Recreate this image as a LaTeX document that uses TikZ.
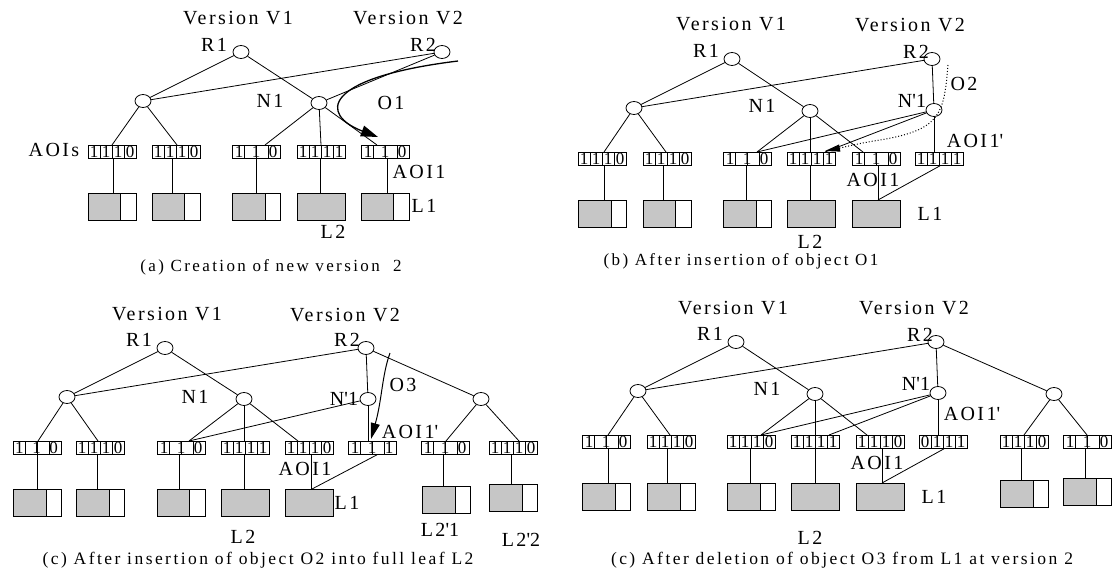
\documentclass[tikz,border=0pt]{standalone}
\usepackage{fontspec}
\setmainfont{Liberation Serif}
\newfontfamily\lblfont{Liberation Serif}[LetterSpace=12]
\newfontfamily\capfont{Liberation Serif}[LetterSpace=14]
\usetikzlibrary{shapes.geometric,arrows.meta}
\definecolor{leafgray}{RGB}{198,198,198}

\tikzset{
  tn/.style={draw, ellipse, minimum width=16pt, minimum height=13pt, inner sep=0pt},
  lbl/.style={font=\lblfont\fontsize{20}{22}\selectfont, inner sep=0pt},
  captop/.style={font=\capfont\fontsize{17}{19}\selectfont, inner sep=0pt},
  capbot/.style={font=\capfont\fontsize{17.5}{19}\selectfont, inner sep=0pt},
  digit/.style={font=\fontsize{17}{17}\selectfont, inner sep=0pt},
  aoibox/.style={draw, minimum width=48pt, minimum height=13pt, inner sep=0pt,
    path picture={\foreach \q in {12,24,36}
      \draw ([xshift=\q]path picture bounding box.south west) -- ([xshift=\q]path picture bounding box.north west);}},
  leaf/.style={draw, minimum width=48pt, minimum height=27pt, inner sep=0pt,
    path picture={\fill[leafgray] (path picture bounding box.south west) rectangle ([xshift=#1]path picture bounding box.north west);
      \draw ([xshift=#1]path picture bounding box.south west) -- ([xshift=#1]path picture bounding box.north west);}},
  bigtip/.style={line width=1.3pt, -{Triangle[length=17pt,width=11pt]}},
  dottip/.style={dotted, line width=1pt, -{Triangle[length=15pt,width=7pt]}},
  thintip/.style={line width=1pt, -{Triangle[length=16pt,width=9pt]}},
}

% AOI bit vectors: four cells, digits either one per cell or three spread over the box
\newcommand\aoifour[4]{%
  \node[aoibox,anchor=north west] (#1) at (#2,#3) {};
  \foreach \d [count=\k] in {#4} {\node[digit] at ([xshift={12*\k-6}]#1.west) {\d};}}
\newcommand\aoithree[4]{%
  \node[aoibox,anchor=north west] (#1) at (#2,#3) {};
  \foreach \d [count=\k] in {#4} {\node[digit] at ([xshift={17*\k-10}]#1.west) {\d};}}
% leaf page: gray part of the given width, white remainder
\newcommand\leafbox[4]{\node[leaf=#4,anchor=north west] (#1) at (#2,#3) {};}

\begin{document}
\begin{tikzpicture}[x=1pt,y=-1pt,line width=0.8pt]
\useasboundingbox (0,0) rectangle (1112,570);

% ---------------- (a) creation of new version 2 ----------------
\node[lbl] (aV1) at (238,18) {Version V1};
\node[lbl] (aV2) at (408,18) {Version V2};
\node[tn] (aR1) at (241,52) {};
\node[lbl] (aR1t) at (214,45) {R1};
\node[tn] (aR2) at (442,52) {};
\node[lbl] (aR2t) at (423,45) {R2};
\node[tn] (aL) at (143,101) {};
\node[tn] (aN1) at (319,103) {};
\node[lbl] (aN1t) at (270,101) {N1};
\node[lbl] (aO1t) at (391,103) {O1};
\node[lbl] (aAOIs) at (54,150) {AOIs};
\aoifour{a-b1}{88}{145}{1,1,1,0}
\aoifour{a-b2}{152}{145}{1,1,1,0}
\aoithree{a-b3}{232}{145}{1,1,0}
\aoifour{a-b4}{297}{145}{1,1,1,1}
\aoithree{a-b5}{361}{145}{1,1,0}
\leafbox{a-l1}{88}{193}{32}
\leafbox{a-l2}{152}{193}{32}
\leafbox{a-l3}{232}{193}{33}
\leafbox{a-l4}{297}{193}{48}
\leafbox{a-l5}{361}{193}{32}
\node[lbl] (aAOI1) at (419,172) {AOI1};
\node[lbl] (aL1) at (424,206) {L1};
\node[lbl] (aL2) at (333,232) {L2};
\node[captop] (acap) at (271,267) {(a) Creation of new version~~2};
\draw (aR1) -- (aL);
\draw (aR1) -- (aN1);
\draw (aR2) -- (aL);
\draw (aR2) -- (aN1);
\draw (aL) -- ([xshift=24]a-b1.north west);
\draw (aL) -- ([xshift=25]a-b2.north west);
\draw (aN1) -- ([xshift=33]a-b3.north west);
\draw (aN1) -- ([xshift=24]a-b4.north west);
\draw (aN1) -- ([xshift=16]a-b5.north west);
\draw ([xshift=25]a-b1.south west) -- ([xshift=25]a-l1.north west);
\draw ([xshift=20]a-b2.south west) -- ([xshift=20]a-l2.north west);
\draw ([xshift=24]a-b3.south west) -- ([xshift=24]a-l3.north west);
\draw ([xshift=23]a-b4.south west) -- ([xshift=23]a-l4.north west);
\draw ([xshift=26]a-b5.south west) -- ([xshift=26]a-l5.north west);
\coordinate (o1s) at (458,61);
\coordinate (o1e) at (378,137);
\draw[bigtip] (o1s) .. controls (320,78) and (320,115) .. (o1e);

% ---------------- (b) after insertion of O1 ----------------
\node[lbl] (bV1) at (731,24) {Version V1};
\node[lbl] (bV2) at (910,25) {Version V2};
\node[tn] (bR1) at (732,59) {};
\node[lbl] (bR1t) at (706,51) {R1};
\node[tn] (bR2) at (932,59) {};
\node[lbl] (bR2t) at (916,52) {R2};
\node[tn] (bL) at (634,108) {};
\node[tn] (bN1) at (810,111) {};
\node[lbl] (bN1t) at (762,106) {N1};
\node[tn] (bNp) at (934,110) {};
\node[lbl] (bNpt) at (912,101) {N\textquotesingle1};
\node[lbl] (bO2t) at (964,84) {O2};
\aoifour{b-b1}{578}{152}{1,1,1,0}
\aoifour{b-b2}{643}{152}{1,1,1,0}
\aoithree{b-b3}{723}{152}{1,1,0}
\aoifour{b-b4}{787}{152}{1,1,1,1}
\aoithree{b-b5}{852}{152}{1,1,0}
\aoifour{b-b6}{915}{152}{1,1,1,1}
\leafbox{b-l1}{578}{200}{33}
\leafbox{b-l2}{643}{200}{32}
\leafbox{b-l3}{723}{200}{33}
\leafbox{b-l4}{787}{200}{48}
\leafbox{b-l5}{852}{200}{48}
\node[lbl] (bAOI1p) at (975,141) {AOI1\textquotesingle};
\node[lbl] (bAOI1) at (873,180) {AOI1};
\node[lbl] (bL1) at (930,214) {L1};
\node[lbl] (bL2) at (810,242) {L2};
\node[captop] (bcap) at (741,261) {(b) After insertion of object O1};
\draw (bR1) -- (bL);
\draw (bR1) -- (bN1);
\draw (bR2) -- (bL);
\draw (bR2) -- (bNp);
\draw (bL) -- ([xshift=26]b-b1.north west);
\draw (bL) -- ([xshift=23]b-b2.north west);
\draw (bN1) -- ([xshift=34]b-b3.north west);
\draw (bNp) -- ([xshift=34]b-b3.north west);
\draw (bN1) -- ([xshift=23]b-b4.north west);
\draw (bNp) -- ([xshift=38]b-b4.north west);
\draw (bN1) -- ([xshift=11]b-b5.north west);
\draw (bNp) -- ([xshift=19]b-b6.north west);
\draw ([xshift=26]b-b1.south west) -- ([xshift=26]b-l1.north west);
\draw ([xshift=20]b-b2.south west) -- ([xshift=20]b-l2.north west);
\draw ([xshift=23]b-b3.south west) -- ([xshift=23]b-l3.north west);
\draw ([xshift=23]b-b4.south west) -- ([xshift=23]b-l4.north west);
\draw ([xshift=26]b-b5.south west) -- ([xshift=26]b-l5.north west);
\draw ([xshift=25]b-b6.south west) -- ([xshift=26]b-l5.north west);
\coordinate (o2s) at (948,65);
\coordinate (o2e) at (825,151);
\draw[dottip] (o2s) .. controls (944,115) and (940,130) .. (880,140) .. controls (860,143) and (845,147) .. (o2e);

% ---------------- (c) after insertion of O2 into full leaf L2 ----------------
\node[lbl] (cV1) at (167,314) {Version V1};
\node[lbl] (cV2) at (345,315) {Version V2};
\node[tn] (cR1) at (165,348) {};
\node[lbl] (cR1t) at (139,340) {R1};
\node[tn] (cR2) at (366,348) {};
\node[lbl] (cR2t) at (347,340) {R2};
\node[tn] (cL) at (67,397) {};
\node[tn] (cN1) at (244,399) {};
\node[lbl] (cN1t) at (195,397) {N1};
\node[tn] (cNp) at (368,399) {};
\node[lbl] (cNpt) at (344,399) {N\textquotesingle1};
\node[tn] (cRt) at (481,399) {};
\node[lbl] (cO3t) at (403,385) {O3};
\aoithree{c-b1}{12.5}{441}{1,1,0}
\aoifour{c-b2}{76}{441}{1,1,1,0}
\aoithree{c-b3}{157}{441}{1,1,0}
\aoifour{c-b4}{221}{441}{1,1,1,1}
\aoifour{c-b5}{285}{441}{1,1,1,0}
\aoithree{c-b6}{348}{441}{1,1,1}
\aoithree{c-b7}{421}{441}{1,1,0}
\aoifour{c-b8}{489}{441}{1,1,1,0}
\leafbox{c-l1}{12.5}{489}{33}
\leafbox{c-l2}{76}{489}{33}
\leafbox{c-l3}{157}{489}{32}
\leafbox{c-l4}{221}{489}{48}
\leafbox{c-l5}{285}{489}{48}
\leafbox{c-l7}{422}{486}{33}
\leafbox{c-l8}{489}{484}{33}
\node[lbl] (cAOI1p) at (410,432) {AOI1\textquotesingle};
\node[lbl] (cAOI1) at (305,469) {AOI1};
\node[lbl] (cL1) at (347,503) {L1};
\node[lbl] (cL2) at (243,537) {L2};
\node[lbl] (cL21) at (440,530) {L2\textquotesingle1};
\node[lbl] (cL22) at (521,540) {L2\textquotesingle2};
\node[capbot] (ccap) at (258,560) {(c) After insertion of object O2 into full leaf L2};
\draw (cR1) -- (cL);
\draw (cR1) -- (cN1);
\draw (cR2) -- (cL);
\draw (cR2) -- (cNp);
\draw (cR2) -- (cRt);
\draw (cL) -- ([xshift=25.5]c-b1.north west);
\draw (cL) -- ([xshift=22]c-b2.north west);
\draw (cN1) -- ([xshift=32]c-b3.north west);
\draw (cNp) -- ([xshift=32]c-b3.north west);
\draw (cN1) -- ([xshift=23]c-b4.north west);
\draw (cN1) -- ([xshift=13]c-b5.north west);
\draw (cNp) -- ([xshift=20]c-b6.north west);
\draw (cRt) -- ([xshift=25]c-b7.north west);
\draw (cRt) -- ([xshift=30]c-b8.north west);
\draw ([xshift=25]c-b1.south west) -- ([xshift=25]c-l1.north west);
\draw ([xshift=21]c-b2.south west) -- ([xshift=21]c-l2.north west);
\draw ([xshift=22]c-b3.south west) -- ([xshift=22]c-l3.north west);
\draw ([xshift=23]c-b4.south west) -- ([xshift=23]c-l4.north west);
\draw ([xshift=26]c-b5.south west) -- ([xshift=26]c-l5.north west);
\draw ([xshift=29]c-b6.south west) -- ([xshift=27]c-l5.north west);
\draw ([xshift=22]c-b7.south west) -- ([xshift=21]c-l7.north west);
\draw ([xshift=22]c-b8.south west) -- ([xshift=22]c-l8.north west);
\coordinate (o3s) at (390,353);
\coordinate (o3e) at (371,439);
\draw[thintip] (o3s) .. controls (382,375) and (382,400) .. (o3e);

% ---------------- (d) after deletion of O3 from L1 ----------------
\node[lbl] (dV1) at (733,308) {Version V1};
\node[lbl] (dV2) at (914,308) {Version V2};
\node[tn] (dR1) at (736,342) {};
\node[lbl] (dR1t) at (710,334) {R1};
\node[tn] (dR2) at (936,342) {};
\node[lbl] (dR2t) at (920,335) {R2};
\node[tn] (dL) at (638,391) {};
\node[tn] (dN1) at (815,394) {};
\node[lbl] (dN1t) at (767,389) {N1};
\node[tn] (dNp) at (938,393) {};
\node[lbl] (dNpt) at (916,384) {N\textquotesingle1};
\node[tn] (dRt) at (1054,394) {};
\aoithree{d-b1}{582}{435}{1,1,0}
\aoifour{d-b2}{647}{435}{1,1,1,0}
\aoifour{d-b3}{727}{435}{1,1,1,0}
\aoifour{d-b4}{791}{435}{1,1,1,1}
\aoifour{d-b5}{856}{435}{1,1,1,0}
\aoifour{d-b6}{919}{435}{0,1,1,1}
\aoifour{d-b7}{1000}{435}{1,1,1,0}
\aoithree{d-b8}{1063}{435}{1,1,0}
\leafbox{d-l1}{582}{483}{33}
\leafbox{d-l2}{647}{483}{33}
\leafbox{d-l3}{727}{483}{33}
\leafbox{d-l4}{791}{483}{48}
\leafbox{d-l5}{856}{483}{48}
\leafbox{d-l7}{1000}{480}{33}
\leafbox{d-l8}{1063}{478}{33}
\node[lbl] (dAOI1p) at (972,414) {AOI1\textquotesingle};
\node[lbl] (dAOI1) at (877,463) {AOI1};
\node[lbl] (dL1) at (934,497) {L1};
\node[lbl] (dL2) at (810,538) {L2};
\node[capbot] (dcap) at (842,560) {(c) After deletion of object O3 from L1 at version 2};
\draw (dR1) -- (dL);
\draw (dR1) -- (dN1);
\draw (dR2) -- (dL);
\draw (dR2) -- (dNp);
\draw (dR2) -- (dRt);
\draw (dL) -- ([xshift=26]d-b1.north west);
\draw (dL) -- ([xshift=23]d-b2.north west);
\draw (dN1) -- ([xshift=34]d-b3.north west);
\draw (dNp) -- ([xshift=34]d-b3.north west);
\draw (dN1) -- ([xshift=24]d-b4.north west);
\draw (dNp) -- ([xshift=38]d-b4.north west);
\draw (dN1) -- ([xshift=11]d-b5.north west);
\draw (dNp) -- ([xshift=19]d-b6.north west);
\draw (dRt) -- ([xshift=24]d-b7.north west);
\draw (dRt) -- ([xshift=24]d-b8.north west);
\draw ([xshift=26]d-b1.south west) -- ([xshift=26]d-l1.north west);
\draw ([xshift=20]d-b2.south west) -- ([xshift=20]d-l2.north west);
\draw ([xshift=23]d-b3.south west) -- ([xshift=23]d-l3.north west);
\draw ([xshift=24]d-b4.south west) -- ([xshift=24]d-l4.north west);
\draw ([xshift=26]d-b5.south west) -- ([xshift=26]d-l5.north west);
\draw ([xshift=25]d-b6.south west) -- ([xshift=26]d-l5.north west);
\draw ([xshift=21]d-b7.south west) -- ([xshift=21]d-l7.north west);
\draw ([xshift=22]d-b8.south west) -- ([xshift=22]d-l8.north west);
\end{tikzpicture}
\end{document}
